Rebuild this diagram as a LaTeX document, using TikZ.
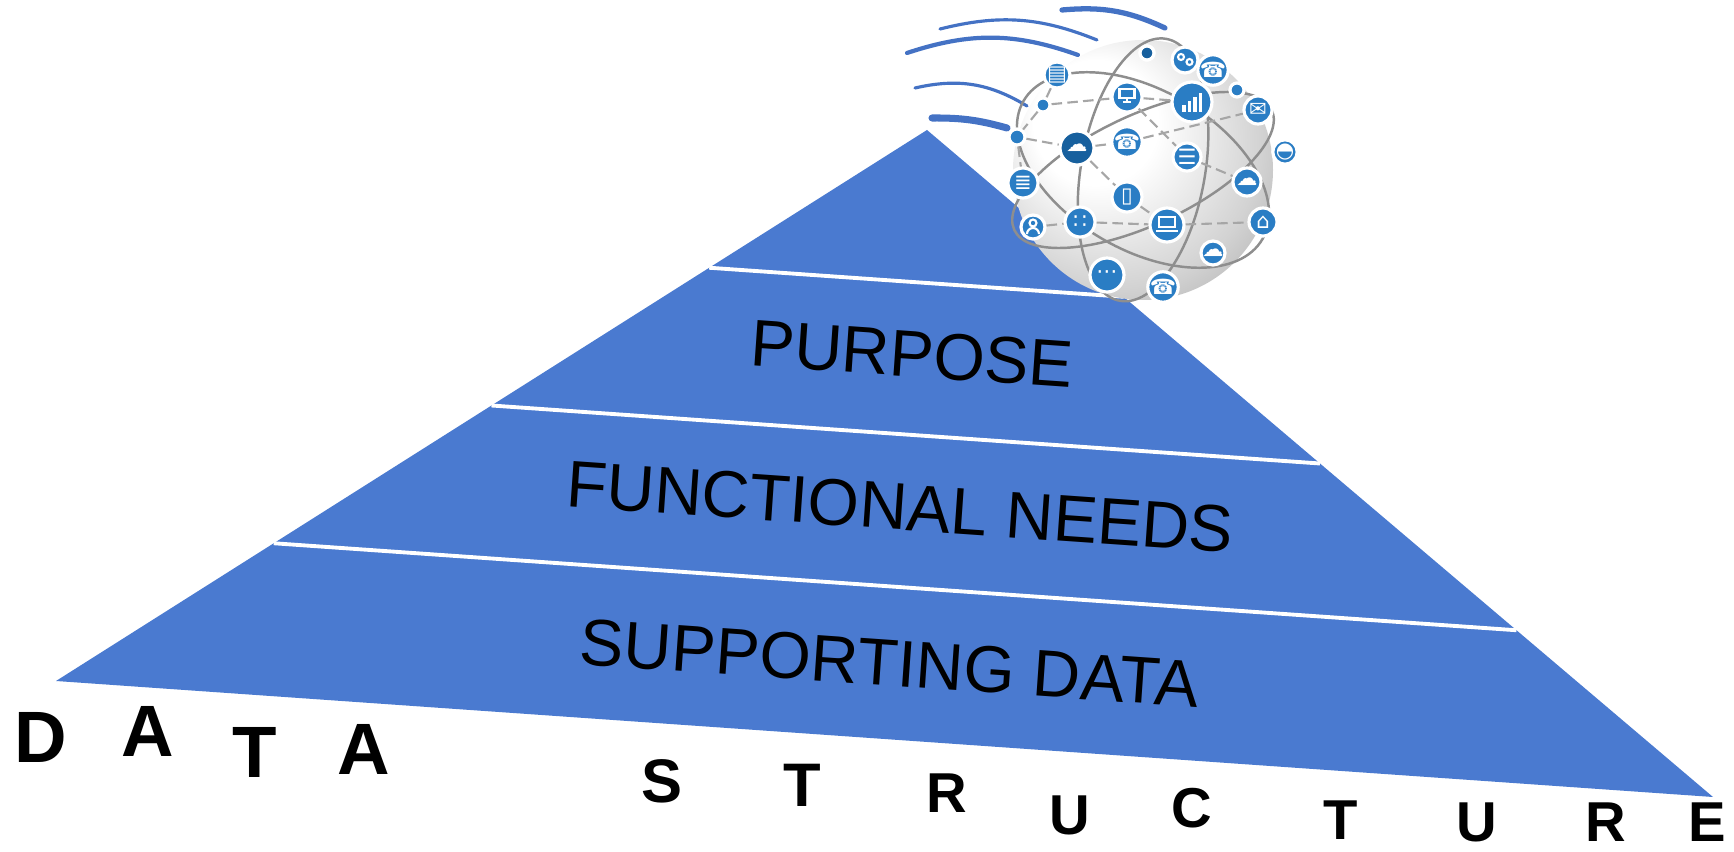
\documentclass[tikz,border=0pt]{standalone}
\usepackage{fontspec}
\setmainfont{Liberation Sans}
\newfontfamily\symfont{DejaVu Sans}
\usetikzlibrary{calc,positioning}
\definecolor{pyrBlue}{HTML}{4A7AD0}
\definecolor{swBlue}{HTML}{4472C4}
\definecolor{iconBlue}{HTML}{2A7DC4}
\definecolor{iconDark}{HTML}{17609E}
\definecolor{orbitGray}{HTML}{8E8E8E}
% silver globe, light from the upper left
\pgfdeclareradialshading{globeshade}{\pgfpoint{-12bp}{12bp}}{color(0bp)=(white); color(12bp)=(white); color(28bp)=(gray!35); color(40bp)=(gray!70); color(50bp)=(gray!75)}

\begin{document}
\begin{tikzpicture}[
    layer/.style={font=\fontsize{18.8}{20}\selectfont, text=black, rotate=-4},
    letter/.style={inner sep=0pt},
    bigletter/.style={letter, font=\bfseries\fontsize{20.7}{22}\selectfont},
    midletter/.style={letter, font=\bfseries\fontsize{17.5}{19}\selectfont},
    smallletter/.style={letter, font=\bfseries\fontsize{16}{18}\selectfont},
    bandline/.style={draw=white, line width=1.1pt},
    swoosh/.style={draw=swBlue, line cap=round},
    orbit/.style={draw=orbitGray, line width=0.7pt},
    net/.style={draw=gray!70, line width=0.6pt, dash pattern=on 3pt off 1.5pt},
    icon/.style={circle, draw=white, line width=0.9pt, fill=iconBlue, inner sep=0pt,
      text=white, font=\symfont\fontsize{6}{6}\selectfont},
    glyph/.style={draw=white, line width=0.6pt}
  ]
  \useasboundingbox (0,0) rectangle (17.34,-8.52);

  % pyramid with four bands
  \coordinate (apex) at (9.27,-1.30);
  \coordinate (baseL) at (0.56,-6.81);
  \coordinate (baseR) at (17.13,-7.97);
  \fill[pyrBlue] (apex) -- (baseL) -- (baseR) -- cycle;
  \foreach \f in {0.25,0.5,0.75}
    \draw[bandline] ($(apex)!\f!(baseL)$) -- ($(apex)!\f!(baseR)$);

  \node[layer] (purpose) at (9.12,-3.54) {PURPOSE};
  \node[layer] (needs) at (9.00,-5.07) {FUNCTIONAL NEEDS};
  \node[layer] (support) at (8.90,-6.63) {SUPPORTING DATA};

  % motion lines behind the globe
  \coordinate (s1a) at (10.62,-0.10); \coordinate (s1b) at (11.65,-0.28);
  \coordinate (s2a) at (9.40,-0.29);  \coordinate (s2b) at (10.97,-0.40);
  \coordinate (s3a) at (9.07,-0.53);  \coordinate (s3b) at (10.78,-0.55);
  \coordinate (s4a) at (9.15,-0.88);  \coordinate (s4b) at (10.27,-1.06);
  \coordinate (s5a) at (9.32,-1.18);  \coordinate (s5b) at (10.07,-1.28);
  \draw[swoosh, line width=1.5pt] (s1a) to[bend left=15] (s1b);
  \draw[swoosh, line width=0.9pt] (s2a) to[bend left=18] (s2b);
  \draw[swoosh, line width=1.2pt] (s3a) to[bend left=19] (s3b);
  \draw[swoosh, line width=0.9pt] (s4a) to[bend left=22] (s4b);
  \draw[swoosh, line width=2pt] (s5a) to[bend left=8] (s5b);

  % globe
  \coordinate (gc) at (11.43,-1.70);
  \shade[shading=globeshade] (gc) circle (1.30);
  \draw[orbit, rotate around={25:(gc)}] (gc) ellipse (1.42 and 0.55);
  \draw[orbit, rotate around={-30:(gc)}] (gc) ellipse (1.38 and 0.80);
  \draw[orbit, rotate around={80:(gc)}] (gc) ellipse (1.33 and 0.62);

  % network icons
  \foreach \nm/\x/\y/\d/\g in {
      dot/11.47/-0.53/0.14/{}, people/11.85/-0.60/0.26/{},
      phoneA/12.13/-0.70/0.20/{☎}, doc/10.57/-0.75/0.26/{▤},
      monitor/11.27/-0.97/0.30/{}, chart/11.92/-1.02/0.40/{},
      small/12.37/-0.90/0.14/{}, mail/12.58/-1.10/0.28/{✉},
      pin/10.43/-1.05/0.14/{}, share/10.17/-1.37/0.16/{},
      hand/10.77/-1.48/0.34/{☁}, phoneB/11.27/-1.42/0.30/{☎},
      server/11.87/-1.57/0.28/{☰}, gauge/12.85/-1.52/0.24/{◓},
      dbase/10.23/-1.83/0.30/{≣}, tablet/11.27/-1.97/0.30/{▯},
      cloudA/12.47/-1.82/0.28/{☁}, person/10.33/-2.27/0.24/{},
      scatter/10.80/-2.22/0.30/{∷}, laptop/11.67/-2.25/0.34/{},
      router/12.63/-2.22/0.28/{⌂}, cloudB/12.13/-2.53/0.24/{☁},
      chat/11.07/-2.75/0.34/{⋯}, phoneC/11.63/-2.87/0.22/{☎}}
    \node[icon, minimum size=\d cm] (\nm) at (\x,\y) {\g};
  \node[icon, fill=iconDark, minimum size=0.14cm] at (dot) {};
  \node[icon, fill=iconDark, minimum size=0.34cm] at (hand) {☁};

  \draw[net] (pin) -- (monitor) -- (chart);
  \draw[net] (share) -- (hand) -- (phoneB) -- (mail);
  \draw[net] (hand) -- (tablet) -- (laptop);
  \draw[net] (person) -- (scatter) -- (laptop) -- (router);
  \draw[net] (monitor) -- (server) -- (cloudA);
  \draw[net] (doc) -- (pin) -- (share) -- (dbase);

  % drawn glyphs
  \draw[glyph] ($(monitor)+(-0.075,-0.01)$) rectangle ($(monitor)+(0.075,0.08)$);
  \draw[glyph] ($(monitor)+(0,-0.01)$) -- ($(monitor)+(0,-0.05)$);
  \draw[glyph] ($(monitor)+(-0.04,-0.05)$) -- ($(monitor)+(0.04,-0.05)$);
  \foreach \i/\h in {0/0.07,1/0.11,2/0.15,3/0.19}
    \fill[white] ($(chart)+(-0.1+\i*0.055,-0.1)$) rectangle ++(0.035,\h);
  \draw[glyph] ($(laptop)+(-0.08,-0.02)$) rectangle ($(laptop)+(0.08,0.08)$);
  \draw[glyph] ($(laptop)+(-0.11,-0.06)$) -- ($(laptop)+(0.11,-0.06)$);
  \draw[glyph] ($(person)+(0,0.04)$) circle (0.035);
  \draw[glyph] ($(person)+(-0.06,-0.07)$) arc (180:0:0.06);
  \draw[glyph] ($(people)+(-0.04,0.03)$) circle (0.03);
  \draw[glyph] ($(people)+(0.045,-0.02)$) circle (0.03);

  % title letters along the base
  \foreach \ch/\x/\y/\st [count=\k] in {D/0.41/-7.375/bigletter, A/1.48/-7.31/bigletter,
      T/2.55/-7.52/bigletter, A/3.64/-7.49/bigletter, S/6.62/-7.81/midletter,
      T/8.02/-7.85/midletter, R/9.47/-7.93/smallletter, U/10.70/-8.15/smallletter,
      C/11.92/-8.08/smallletter, T/13.41/-8.20/smallletter, U/14.77/-8.22/smallletter,
      R/16.06/-8.22/smallletter, E/17.07/-8.22/smallletter}
    \node[\st] (ch\k) at (\x,\y) {\ch};
\end{tikzpicture}
\end{document}
